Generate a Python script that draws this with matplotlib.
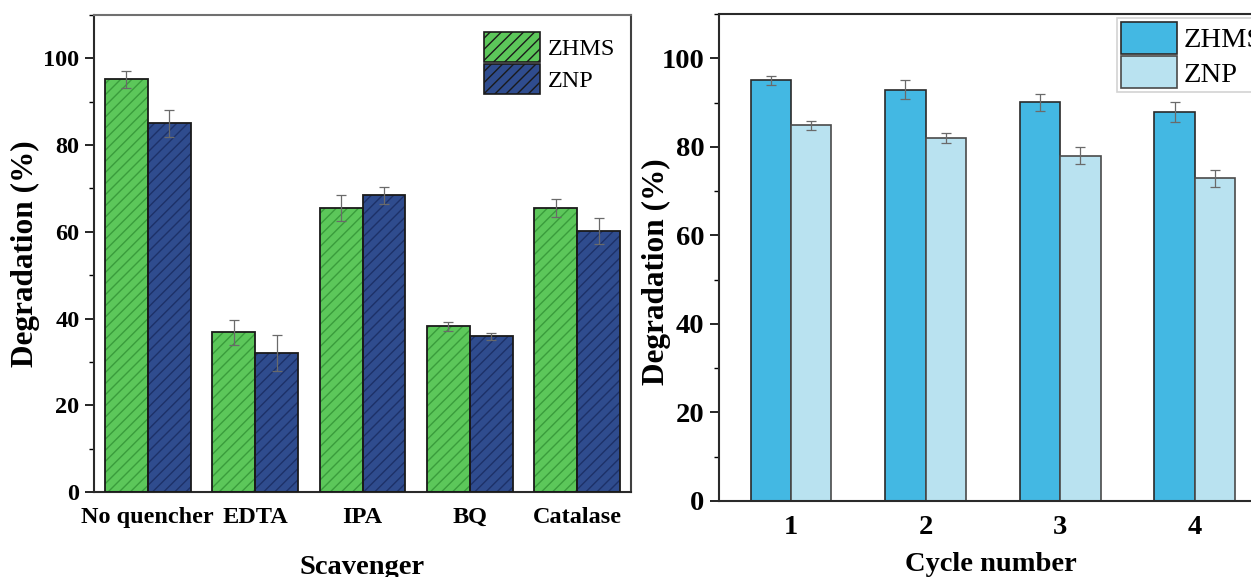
import numpy as np
import matplotlib
matplotlib.use("Agg")
import matplotlib.pyplot as plt
from matplotlib.ticker import MultipleLocator

# Scavenger experiment
scavengers = ["No quencher", "EDTA", "IPA", "BQ", "Catalase"]
zhms_scav = [95.2, 36.8, 65.5, 38.2, 65.5]
zhms_scav_err = [2.0, 2.8, 3.0, 1.0, 2.0]
znp_scav = [85.0, 32.1, 68.4, 35.9, 60.3]
znp_scav_err = [3.2, 4.2, 1.9, 0.8, 3.0]

# Recycling experiment
cycles = ["1", "2", "3", "4"]
zhms_cyc = [95.0, 92.9, 90.1, 87.9]
zhms_cyc_err = [1.1, 2.2, 1.9, 2.2]
znp_cyc = [84.9, 82.0, 78.0, 72.9]
znp_cyc_err = [1.0, 1.1, 1.9, 1.9]

plt.rcParams["font.family"] = ["Liberation Serif", "DejaVu Serif"]
plt.rcParams["hatch.linewidth"] = 1.0

W, H = 1251, 577
fig = plt.figure(figsize=(W / 100, H / 100), dpi=100)

ax1 = fig.add_axes([94 / W, 1 - 492 / H, (631 - 94) / W, (492 - 15) / H])
ax2 = fig.add_axes([719 / W, 1 - 501 / H, (1262 - 719) / W, (501 - 14) / H])

ylabel_fs = 22.5
xlabel_fs = 20.5
tick_fs_left = 17.5
tick_fs_right = 20.5

green, green_h = "#5CC75A", "#3A9C3C"
navy, navy_h = "#2F4C8E", "#1D3168"

# Left panel: hatched grouped bars
x = np.arange(len(scavengers))
bw = 0.4
err_kw = dict(ecolor="#6a6a6a", elinewidth=0.9, capsize=3.5, capthick=0.9)
for vals, errs, fc, hc, off, lab in [
    (zhms_scav, zhms_scav_err, green, green_h, -bw / 2, "ZHMS"),
    (znp_scav, znp_scav_err, navy, navy_h, bw / 2, "ZNP"),
]:
    ax1.bar(x + off, vals, bw, color=fc, edgecolor=hc, hatch="///", linewidth=0, zorder=2)
    ax1.bar(x + off, vals, bw, fill=False, edgecolor="#1a1a1a", linewidth=1.3, zorder=3)
    ax1.errorbar(x + off, vals, yerr=errs, fmt="none", zorder=4, **err_kw)
    # legend proxy
    ax1.bar([0], [0], 0, color=fc, edgecolor="#1a1a1a", hatch="///", linewidth=1.2, label=lab)

ax1.set_xlim(-0.5, 4.5)
ax1.set_ylim(0, 110)
ax1.set_xticks(x)
ax1.set_xticklabels(scavengers, fontsize=tick_fs_left, fontweight="bold")
ax1.set_xlabel("Scavenger", fontsize=xlabel_fs, fontweight="bold", labelpad=19)
ax1.set_ylabel("Degradation (%)", fontsize=ylabel_fs, fontweight="bold")
ax1.yaxis.set_label_coords(-0.101, 0.5)

# Right panel: plain grouped bars
xc = np.arange(1, len(cycles) + 1)
bw2 = 0.3
blue, light = "#43B8E3", "#B9E2F0"
ax2.bar(xc - bw2 / 2, zhms_cyc, bw2, color=blue, edgecolor="#2a2a2a", linewidth=1.2, label="ZHMS", zorder=2)
ax2.bar(xc + bw2 / 2, znp_cyc, bw2, color=light, edgecolor="#4a4a4a", linewidth=1.2, label="ZNP", zorder=2)
ax2.errorbar(xc - bw2 / 2, zhms_cyc, yerr=zhms_cyc_err, fmt="none", zorder=4, **err_kw)
ax2.errorbar(xc + bw2 / 2, znp_cyc, yerr=znp_cyc_err, fmt="none", zorder=4, **err_kw)
ax2.set_xlim(0.465, 4.5)
ax2.set_ylim(0, 110)
ax2.set_xticks(xc)
ax2.set_xticklabels(cycles, fontsize=tick_fs_right, fontweight="bold")
ax2.set_xlabel("Cycle number", fontsize=xlabel_fs, fontweight="bold", labelpad=9)
ax2.set_ylabel("Degradation (%)", fontsize=ylabel_fs, fontweight="bold")
ax2.yaxis.set_label_coords(-0.089, 0.47)

for ax, tfs, xpad in ((ax1, tick_fs_left, 11), (ax2, tick_fs_right, 10)):
    ax.yaxis.set_major_locator(MultipleLocator(20))
    ax.yaxis.set_minor_locator(MultipleLocator(10))
    ax.tick_params(axis="y", which="major", direction="out", length=6.5, width=1.2,
                   labelsize=tfs, pad=4)
    ax.tick_params(axis="y", which="minor", direction="out", length=3.5, width=1.0)
    ax.tick_params(axis="x", length=0, pad=xpad)
    for lbl in ax.get_yticklabels():
        lbl.set_fontweight("bold")
    for s in ax.spines.values():
        s.set_linewidth(1.5)
        s.set_color("#2a2a2a")

ax1.spines["top"].set_color("#707070")
ax1.spines["right"].set_color("#404040")

leg1 = ax1.legend(loc="upper left", bbox_to_anchor=(0.709, 0.985), frameon=False,
                  fontsize=17.5, handlelength=2.3, handleheight=1.55,
                  labelspacing=0.05, handletextpad=0.3, borderaxespad=0)

leg2 = ax2.legend(loc="upper left", bbox_to_anchor=(0.733, 0.992), frameon=True,
                  fancybox=False, edgecolor="#c8c8c8", fontsize=20.5,
                  handlelength=1.95, handleheight=1.32, labelspacing=0.1,
                  handletextpad=0.25, borderpad=0.15, borderaxespad=0)
leg2.get_frame().set_linewidth(1.2)

fig.savefig("out.png", dpi=100)
